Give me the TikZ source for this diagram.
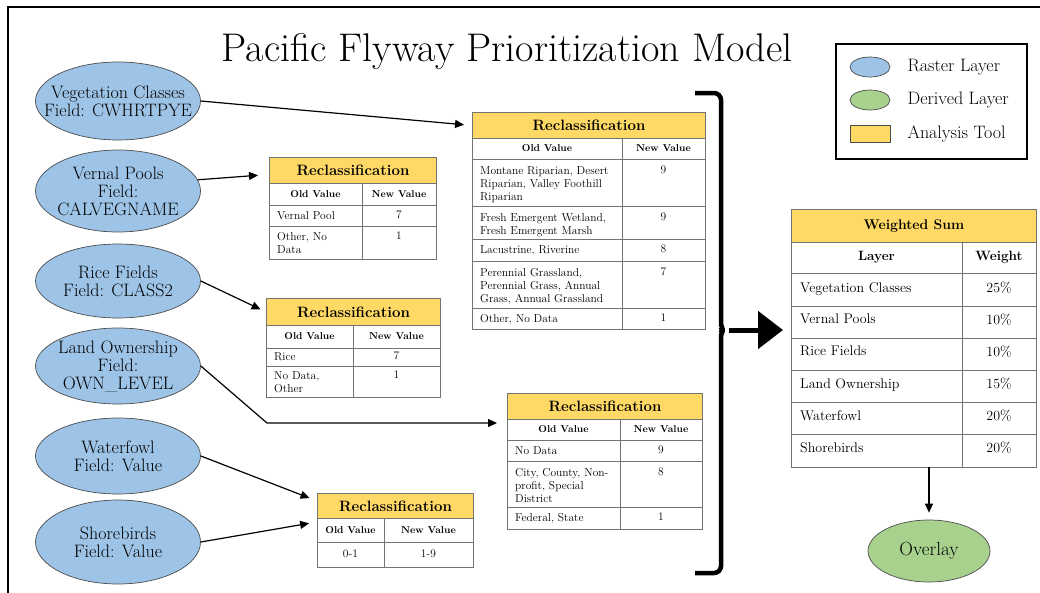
\documentclass[tikz,border=0pt]{standalone}
\usepackage{tikz}
\usetikzlibrary{positioning,shapes.geometric,arrows.meta}

\definecolor{rasterblue}{HTML}{9DC3E6}
\definecolor{derivedgreen}{HTML}{A9D18E}
\definecolor{toolyellow}{HTML}{FFD966}

\begin{document}
\begin{tikzpicture}
		[
			x=1pt, y=-1pt,
			>={Triangle[length=9pt,width=8pt]},
			raster/.style={ellipse, draw=black!70, line width=0.7pt, fill=rasterblue, inner xsep=-20pt, inner ysep=-2pt, minimum width=165pt, align=center, font=\fontsize{18}{18}\selectfont},
			derived/.style={ellipse, draw=black!70, line width=0.7pt, fill=derivedgreen, inner sep=0pt, minimum width=122pt, minimum height=62pt, font=\fontsize{19}{21}\selectfont},
			toolhead/.style={draw=black!55, line width=0.9pt, fill=toolyellow, anchor=north west, inner sep=0pt, font=\bfseries\fontsize{15}{17}\selectfont},
			tablerule/.style={draw=black!55, line width=0.9pt},
			colhead/.style={inner sep=0pt, font=\bfseries\fontsize{10}{12}\selectfont},
			oldval/.style={anchor=north west, inner sep=0pt, align=left, font=\fontsize{11.5}{13}\selectfont},
			newval/.style={anchor=north, inner sep=0pt, font=\fontsize{11.5}{13}\selectfont},
			flow/.style={->, line width=1.2pt, shorten >=8pt},
			legendtext/.style={inner sep=0pt, anchor=west, font=\fontsize{18}{20}\selectfont}
		]

		\useasboundingbox (0,0) rectangle (1040,592);
		\draw[line width=1.8pt] (8,7) rectangle (1060,610);

		\node[inner sep=0pt, anchor=base, font=\fontsize{40}{44}\selectfont] (title) at (507,61) {Pacific Flyway Prioritization Model};

		% input layers
		\node[raster, minimum height=78pt] (veg) at (118,101) {Vegetation Classes\\Field: CWHRTPYE};
		\node[raster, minimum height=82pt] (vernal) at (118,191) {Vernal Pools\\Field:\\CALVEGNAME};
		\node[raster, minimum height=74pt] (rice) at (118,281) {Rice Fields\\Field: CLASS2};
		\node[raster, minimum height=76pt] (land) at (118,366) {Land Ownership\\Field:\\OWN\_LEVEL};
		\node[raster, minimum height=76pt] (fowl) at (118,456) {Waterfowl\\Field: Value};
		\node[raster, minimum height=84pt] (shore) at (118,542) {Shorebirds\\Field: Value};

		% vernal pools table
		\node[toolhead, minimum width=167pt, minimum height=26pt] (pooltool) at (269,157) {Reclassification};
		\draw[tablerule] (269,183) rectangle (436,259) (269,205) -- (436,205) (269,226) -- (436,226) (362,183) -- (362,259);
		\node[colhead] (poolold) at (315.5,194) {Old Value};
		\node[colhead] (poolnew) at (399,194) {New Value};
		\node[oldval] (poolr1) at (277,211) {Vernal Pool};
		\node[newval] (pooln1) at (399,211) {7};
		\node[oldval] (poolr2) at (277,232) {Other, No\\Data};
		\node[newval] (pooln2) at (399,232) {1};

		% rice table
		\node[toolhead, minimum width=174pt, minimum height=27pt] (ricetool) at (266,298) {Reclassification};
		\draw[tablerule] (266,325) rectangle (440,397) (266,348) -- (440,348) (266,366) -- (440,366) (353,325) -- (353,397);
		\node[colhead] (riceold) at (309.5,336.5) {Old Value};
		\node[colhead] (ricenew) at (396.5,336.5) {New Value};
		\node[oldval] (ricer1) at (274,352) {Rice};
		\node[newval] (ricen1) at (396.5,352) {7};
		\node[oldval] (ricer2) at (274,371) {No Data,\\Other};
		\node[newval] (ricen2) at (396.5,371) {1};

		% vegetation table
		\node[toolhead, minimum width=233pt, minimum height=26pt] (vegtool) at (472,112) {Reclassification};
		\draw[tablerule] (472,138) rectangle (705,329) (472,159) -- (705,159) (472,206) -- (705,206) (472,239) -- (705,239) (472,261) -- (705,261) (472,308) -- (705,308) (622,138) -- (622,329);
		\node[colhead] (vegold) at (547,148.5) {Old Value};
		\node[colhead] (vegnew) at (663.5,148.5) {New Value};
		\node[oldval] (vegr1) at (480,166) {Montane Riparian, Desert\\Riparian, Valley Foothill\\Riparian};
		\node[newval] (vegn1) at (663.5,166) {9};
		\node[oldval] (vegr2) at (480,213) {Fresh Emergent Wetland,\\Fresh Emergent Marsh};
		\node[newval] (vegn2) at (663.5,213) {9};
		\node[oldval] (vegr3) at (480,245) {Lacustrine, Riverine};
		\node[newval] (vegn3) at (663.5,245) {8};
		\node[oldval] (vegr4) at (480,268) {Perennial Grassland,\\Perennial Grass, Annual\\Grass, Annual Grassland};
		\node[newval] (vegn4) at (663.5,268) {7};
		\node[oldval] (vegr5) at (480,314) {Other, No Data};
		\node[newval] (vegn5) at (663.5,314) {1};

		% land ownership table
		\node[toolhead, minimum width=195pt, minimum height=26pt] (landtool) at (507,393) {Reclassification};
		\draw[tablerule] (507,419) rectangle (702,529) (507,440) -- (702,440) (507,461) -- (702,461) (507,507) -- (702,507) (620,419) -- (620,529);
		\node[colhead] (landold) at (563.5,429.5) {Old Value};
		\node[colhead] (landnew) at (661,429.5) {New Value};
		\node[oldval] (landr1) at (515,446) {No Data};
		\node[newval] (landn1) at (661,446) {9};
		\node[oldval] (landr2) at (515,468) {City, County, Non-\\profit, Special\\District};
		\node[newval] (landn2) at (661,468) {8};
		\node[oldval] (landr3) at (515,513) {Federal, State};
		\node[newval] (landn3) at (661,513) {1};

		% waterfowl and shorebirds table
		\node[toolhead, minimum width=156pt, minimum height=25pt] (birdtool) at (317,493) {Reclassification};
		\draw[tablerule] (317,518) rectangle (473,567) (317,542) -- (473,542) (384,518) -- (384,567);
		\node[colhead] (birdold) at (350.5,530) {Old Value};
		\node[colhead] (birdnew) at (428.5,530) {New Value};
		\node[newval] (birdr1) at (350.5,550) {0-1};
		\node[newval] (birdn1) at (428.5,550) {1-9};

		% weighted sum table
		\node[toolhead, minimum width=245pt, minimum height=33pt, font=\bfseries\fontsize{14}{16}\selectfont] (wsum) at (791,209) {Weighted Sum};
		\draw[tablerule] (791,242) rectangle (1036,467) (791,273) -- (1036,273) (791,306) -- (1036,306) (791,338) -- (1036,338) (791,370) -- (1036,370) (791,402) -- (1036,402) (791,434) -- (1036,434) (962,242) -- (962,467);
		\node[colhead, font=\bfseries\fontsize{13.5}{15}\selectfont] (wslayer) at (876.5,257.5) {Layer};
		\node[colhead, font=\bfseries\fontsize{13.5}{15}\selectfont] (wsweight) at (999,257.5) {Weight};
		\node[oldval, font=\fontsize{14}{16}\selectfont] (wsr1) at (800,282) {Vegetation Classes};
		\node[newval, font=\fontsize{14}{16}\selectfont] (wsw1) at (999,282) {25\%};
		\node[oldval, font=\fontsize{14}{16}\selectfont] (wsr2) at (800,314) {Vernal Pools};
		\node[newval, font=\fontsize{14}{16}\selectfont] (wsw2) at (999,314) {10\%};
		\node[oldval, font=\fontsize{14}{16}\selectfont] (wsr3) at (800,346) {Rice Fields};
		\node[newval, font=\fontsize{14}{16}\selectfont] (wsw3) at (999,346) {10\%};
		\node[oldval, font=\fontsize{14}{16}\selectfont] (wsr4) at (800,378) {Land Ownership};
		\node[newval, font=\fontsize{14}{16}\selectfont] (wsw4) at (999,378) {15\%};
		\node[oldval, font=\fontsize{14}{16}\selectfont] (wsr5) at (800,410) {Waterfowl};
		\node[newval, font=\fontsize{14}{16}\selectfont] (wsw5) at (999,410) {20\%};
		\node[oldval, font=\fontsize{14}{16}\selectfont] (wsr6) at (800,442) {Shorebirds};
		\node[newval, font=\fontsize{14}{16}\selectfont] (wsw6) at (999,442) {20\%};

		\node[derived] (overlay) at (929,551) {Overlay};

		% legend
		\node[draw, line width=1.5pt, minimum width=191pt, minimum height=115pt, anchor=north west] (legend) at (835,43) {};
		\node[ellipse, draw=black!70, line width=0.7pt, fill=rasterblue, minimum width=40pt, minimum height=20pt, inner sep=0pt] (lgraster) at (870,67) {};
		\node[ellipse, draw=black!70, line width=0.7pt, fill=derivedgreen, minimum width=40pt, minimum height=20pt, inner sep=0pt] (lgderived) at (870,100) {};
		\node[draw=black!70, line width=0.7pt, fill=toolyellow, minimum width=40pt, minimum height=17pt, inner sep=0pt] (lgtool) at (870,133.5) {};
		\node[legendtext, right=17pt of lgraster] (lgrastertext) {Raster Layer};
		\node[legendtext, right=17pt of lgderived] (lgderivedtext) {Derived Layer};
		\node[legendtext, right=17pt of lgtool] (lgtooltext) {Analysis Tool};

		% connectors
		\coordinate (landbend) at (267,423);
		\coordinate (bracetip) at (729,330);
		\coordinate (wsfoot) at (929,467);

		\draw[flow] (veg.east) -- (vegtool.west);
		\draw[flow, shorten >=11pt] (vernal.8) -- ([yshift=-4pt]pooltool.west);
		\draw[flow, shorten >=6pt] (rice.east) -- (ricetool.west);
		\draw[flow, shorten >=10pt] (land.east) -- (landbend) -- (landbend -| landtool.west);
		\draw[flow] (fowl.east) -- ([yshift=5pt]birdtool.west);
		\draw[flow] (shore.east) -- ([yshift=-16pt]birdtool.west);

		\draw[line width=4.5pt, rounded corners=7pt] (695,93) -- (721,93) -- (721,318) to[out=-90,in=180] (bracetip) to[out=180,in=90] (721,342) -- (721,573) -- (695,573);
		\draw[line width=5pt, -{Triangle[length=25pt,width=37pt]}, shorten >=8pt] (bracetip) -- (bracetip -| wsum.west);
		\draw[flow, shorten >=7pt] (wsfoot) -- (overlay.north);
	\end{tikzpicture}
\end{document}
